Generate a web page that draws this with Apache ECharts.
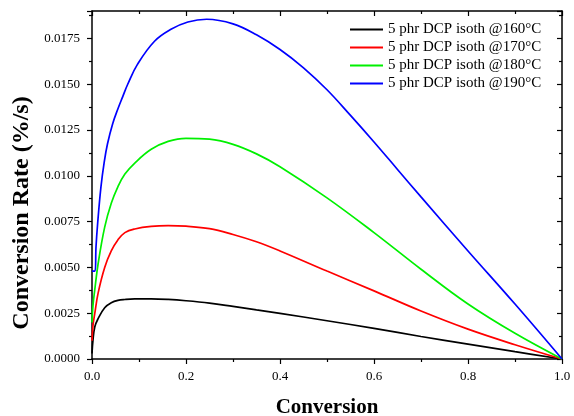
<!DOCTYPE html>
<html>
<head>
<meta charset="utf-8">
<script src="https://cdn.jsdelivr.net/npm/echarts@6/dist/echarts.min.js"></script>
<style>html,body{margin:0;padding:0;background:#fff;}#c{width:574px;height:416px;}</style>
</head>
<body>
<div id="c"></div>
<script>
// Series names
const seriesNames = ['5 phr DCP isoth @160°C', '5 phr DCP isoth @170°C', '5 phr DCP isoth @180°C', '5 phr DCP isoth @190°C'];
// Conversion values (x) shared by the 160/170/180 °C curves
const xConv = [0, 0.002, 0.006, 0.013, 0.027, 0.041, 0.055, 0.07, 0.091, 0.126, 0.162, 0.2, 0.25, 0.3, 0.35, 0.4, 0.5, 0.6, 0.7, 0.8, 0.9, 1.0];
// Conversion rates (%/s)
const y160 = [0.0003, 0.001, 0.00176, 0.0022, 0.0028, 0.00307, 0.0032, 0.00325, 0.00328, 0.00328, 0.00325, 0.00318, 0.00305, 0.00287, 0.00268, 0.00249, 0.00209, 0.00167, 0.00123, 0.00081, 0.0004, 0];
const y170 = [0.001, 0.0018, 0.0025, 0.0036, 0.0050, 0.0059, 0.0065, 0.0069, 0.0071, 0.00724, 0.00728, 0.00725, 0.00712, 0.0068, 0.0064, 0.0059, 0.0048, 0.00372, 0.00262, 0.00163, 0.00078, 0];
const y180 = [0.002, 0.0029, 0.0038, 0.0052, 0.0072, 0.0085, 0.0094, 0.0101, 0.0107, 0.01145, 0.01188, 0.01205, 0.0120, 0.01172, 0.0112, 0.0105, 0.0088, 0.0069, 0.0049, 0.0030, 0.0014, 0];
// 190 °C curve has its own conversion points
const x190 = [0, 0.0064, 0.0085, 0.012, 0.019, 0.026, 0.033, 0.044, 0.055, 0.065, 0.076, 0.097, 0.133, 0.168, 0.204, 0.244, 0.3, 0.35, 0.4, 0.45, 0.5, 0.55, 0.6, 0.65, 0.7, 0.8, 0.9, 1.0];
const y190 = [0.0048, 0.0048, 0.0061, 0.0074, 0.00938, 0.01075, 0.01175, 0.01285, 0.01365, 0.0143, 0.0150, 0.0161, 0.01735, 0.0180, 0.0184, 0.01855, 0.0183, 0.0177, 0.0169, 0.0159, 0.0147, 0.0133, 0.01185, 0.01035, 0.00885, 0.0059, 0.0030, 0];
const colors = ['#000000', '#ff0000', '#00f000', '#0000ff'];

const xsAll = [xConv, xConv, xConv, x190];
const ysAll = [y160, y170, y180, y190];

const FONT = '"Liberation Serif", "Times New Roman", serif';
const chart = echarts.init(document.getElementById('c'), null, {renderer: 'canvas'});

const axisCommon = {
  axisLine: {show: true, onZero: false, lineStyle: {color: '#000', width: 1.5}},
  splitLine: {show: false},
};

const option = {
  backgroundColor: '#ffffff',
  animation: false,
  grid: {left: 92, right: 12, top: 11, bottom: 57, containLabel: false, outerBoundsMode: 'none'},
  legend: {
    orient: 'vertical', left: 345, top: 17,
    icon: 'rect',
    itemWidth: 33, itemHeight: 2, itemGap: 3,
    textStyle: {fontFamily: FONT, fontSize: 15, color: '#000', padding: [0, 0, 0, 0]},
    data: seriesNames
  },
  xAxis: [
    Object.assign({}, axisCommon, {
      type: 'value', position: 'bottom', min: 0, max: 1, interval: 0.2,
      name: 'Conversion', nameLocation: 'middle', nameGap: 38,
      nameTextStyle: {fontFamily: FONT, fontSize: 21, fontWeight: 'bold', color: '#000'},
      axisTick: {show: true, inside: false, length: 5, lineStyle: {color: '#000', width: 1.2}},
      minorTick: {show: true, splitNumber: 2, length: 3, lineStyle: {color: '#000', width: 1.2}},
      axisLabel: {fontFamily: FONT, fontSize: 13, color: '#000', margin: 11, formatter: v => v.toFixed(1)}
    }),
    Object.assign({}, axisCommon, {
      type: 'value', position: 'top', min: 0, max: 1, interval: 0.2,
      axisTick: {show: true, inside: true, length: 5, lineStyle: {color: '#000', width: 1.2}},
      minorTick: {show: true, splitNumber: 2, length: 3, lineStyle: {color: '#000', width: 1.2}},
      axisLabel: {show: false}
    })
  ],
  yAxis: [
    Object.assign({}, axisCommon, {
      type: 'value', position: 'left', min: 0, max: 0.019, interval: 0.0025,
      name: 'Conversion Rate (%/s)', nameLocation: 'middle', nameGap: 54,
      nameTextStyle: {fontFamily: FONT, fontSize: 24, fontWeight: 'bold', color: '#000', padding: [0, 56, 0, 0]},
      axisTick: {show: true, inside: false, length: 5, lineStyle: {color: '#000', width: 1.2}},
      minorTick: {show: true, splitNumber: 2, length: 3, lineStyle: {color: '#000', width: 1.2}},
      axisLabel: {fontFamily: FONT, fontSize: 13, color: '#000', margin: 12, showMaxLabel: false, formatter: v => v.toFixed(4)}
    }),
    Object.assign({}, axisCommon, {
      type: 'value', position: 'right', min: 0, max: 0.019, interval: 0.0025,
      axisTick: {show: true, inside: true, length: 5, lineStyle: {color: '#000', width: 1.2}},
      minorTick: {show: true, splitNumber: 2, length: 3, lineStyle: {color: '#000', width: 1.2}},
      axisLabel: {show: false}
    })
  ],
  series: seriesNames.map((name, i) => ({
    name: name,
    type: 'line',
    xAxisIndex: 0, yAxisIndex: 0,
    symbol: 'none',
    smooth: 0.4,
    color: colors[i],
    lineStyle: {color: colors[i], width: 1.7},
    data: xsAll[i].map((x, j) => [x, ysAll[i][j]])
  }))
};
chart.setOption(option);
</script>
</body>
</html>
